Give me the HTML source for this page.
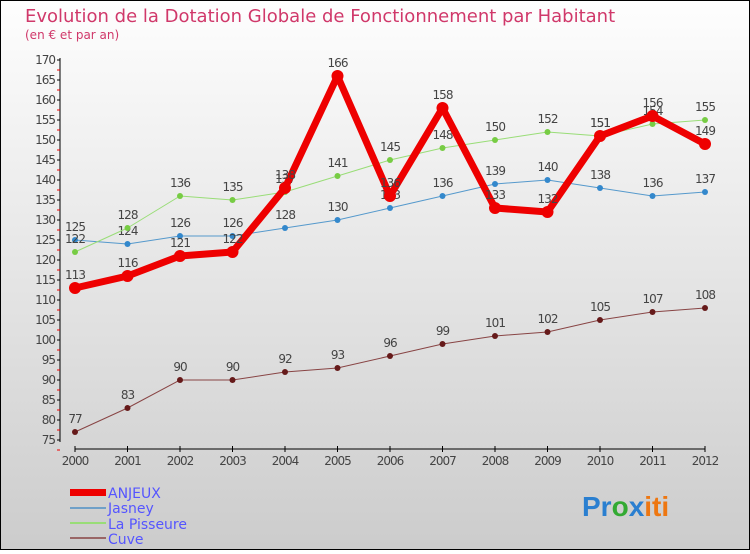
<!DOCTYPE html>
<html><head><meta charset="utf-8"><style>
body{margin:0;width:750px;height:550px;overflow:hidden;font-family:"DejaVu Sans","Liberation Sans",sans-serif}
</style></head><body>
<svg width="750" height="550" xmlns="http://www.w3.org/2000/svg" id="svg">
<defs><linearGradient id="bg" x1="0" y1="0" x2="0" y2="1"><stop offset="0" stop-color="#fefefe"/><stop offset="1" stop-color="#cccccc"/></linearGradient></defs>
<rect x="0.5" y="0.5" width="749" height="549" fill="url(#bg)" stroke="#000"/>
<text x="25" y="22" font-size="18" fill="#d0386a">Evolution de la Dotation Globale de Fonctionnement par Habitant</text>
<text x="25" y="39" font-size="12" fill="#d0386a">(en € et par an)</text>
<g id="axes"></g><g id="series"></g>
<g font-size="14" fill="#5555ff">
<rect x="70" y="489" width="36" height="7" fill="#ee0000"/>
<text x="108" y="498" fill="#5555ff">ANJEUX</text>
<rect x="70" y="507" width="36" height="2" fill="#6fa0c8"/>
<text x="108" y="513" fill="#5555ff">Jasney</text>
<rect x="70" y="522" width="36" height="2" fill="#99dd77"/>
<text x="108" y="529" fill="#5555ff">La Pisseure</text>
<rect x="70" y="537" width="36" height="2" fill="#996666"/>
<text x="108" y="544" fill="#5555ff">Cuve</text>
</g>
<g font-size="28" font-weight="bold" font-family="Liberation Sans,sans-serif">
<text x="582" y="516"><tspan fill="#2a7fd0">Pr</tspan><tspan fill="#33aa33">o</tspan><tspan fill="#2a7fd0">x</tspan><tspan fill="#ee7711">iti</tspan></text>
</g>
</svg>
<script>
const years=[2000,2001,2002,2003,2004,2005,2006,2007,2008,2009,2010,2011,2012];
const anjeux=[113,116,121,122,138,166,136,158,133,132,151,156,149];
const jasney=[125,124,126,126,128,130,133,136,139,140,138,136,137];
const pisseure=[122,128,136,135,137,141,145,148,150,152,151,154,155];
const cuve=[77,83,90,90,92,93,96,99,101,102,105,107,108];
const yTicks=[75,80,85,90,95,100,105,110,115,120,125,130,135,140,145,150,155,160,165,170];
const NS="http://www.w3.org/2000/svg";
const X=i=>75+i*52.5, Y=v=>60+(170-v)*4;
function mk(t,a,p){const e=document.createElementNS(NS,t);for(const k in a)e.setAttribute(k,a[k]);p.appendChild(e);return e;}
const ax=document.getElementById('axes');
mk('line',{x1:60,y1:58,x2:60,y2:442,stroke:'#000'},ax);
mk('line',{x1:75,y1:449,x2:705,y2:449,stroke:'#000'},ax);
yTicks.forEach(v=>{
 mk('line',{x1:57,y1:Y(v),x2:60,y2:Y(v),stroke:'#000'},ax);
 mk('line',{x1:57,y1:Y(v)+10,x2:60,y2:Y(v)+10,stroke:'#e00'},ax);
 const t=mk('text',{x:55,y:Y(v)+4,'font-size':12,'text-anchor':'end',fill:'#444','letter-spacing':'-1'},ax);t.textContent=v;
 
 
});
years.forEach((yr,i)=>{
 mk('line',{x1:X(i),y1:446,x2:X(i),y2:452,stroke:'#000'},ax);
 const t=mk('text',{x:X(i),y:465,'font-size':12,'text-anchor':'middle',fill:'#444','letter-spacing':'-1'},ax);t.textContent=yr;
 
 
});
const sg=document.getElementById('series');
function series(name,data,color,w,r,dot){
 const g=mk('g',{},sg);
 
 
 mk('polyline',{points:data.map((v,i)=>X(i)+','+Y(v)).join(' '),fill:'none',stroke:color,'stroke-width':w,'stroke-linejoin':'round'},g);
 data.forEach((v,i)=>{
  const c=mk('circle',{cx:X(i),cy:Y(v),r:r,fill:dot},g);
  
  
  const t=mk('text',{x:X(i),y:Y(v)-9,'font-size':12,'text-anchor':'middle',fill:'#444','letter-spacing':'-1'},g);t.textContent=v;
  
  
 });
}
series('cuve',cuve,'#884444',1,3,'#661a1a');
series('jasney',jasney,'#5599cc',1,3,'#3388cc');
series('la-pisseure',pisseure,'#99dd77',1,3,'#77cc44');
series('anjeux',anjeux,'#ee0000',7,6,'#ee0000');
</script>
</body></html>
